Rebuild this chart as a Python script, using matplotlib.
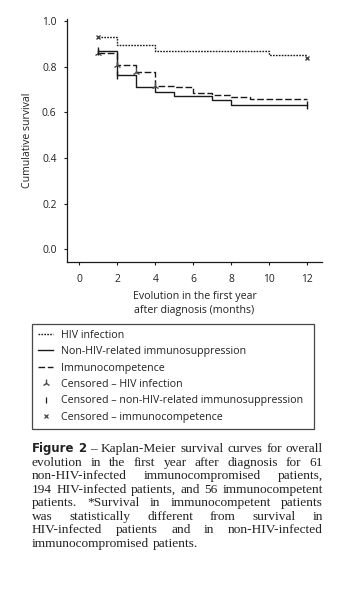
import numpy as np
import matplotlib
matplotlib.use("Agg")
import matplotlib.pyplot as plt
from matplotlib.lines import Line2D

W, H = 337, 596

# Kaplan-Meier step values (months, cumulative survival)
hiv_t = [1, 2, 4, 10, 12]
hiv_s = [0.93, 0.895, 0.87, 0.85, 0.85]
nonhiv_t = [1, 2, 3, 4, 5, 7, 8, 12]
nonhiv_s = [0.87, 0.765, 0.71, 0.69, 0.67, 0.652, 0.634, 0.634]
comp_t = [1, 2, 3, 4, 5, 6, 7, 8, 9, 12]
comp_s = [0.858, 0.808, 0.777, 0.717, 0.713, 0.684, 0.678, 0.666, 0.657, 0.657]

# censored observations
cens_tri_t = [1, 2, 3, 4]
cens_tri_s = [0.858, 0.808, 0.777, 0.715]
cens_bar_t = [1, 2, 12]
cens_bar_s = [0.87, 0.765, 0.634]
cens_x_t = [1, 12]
cens_x_s = [0.93, 0.84]

xticks = [0, 2, 4, 6, 8, 10, 12]
yticks = [0.0, 0.2, 0.4, 0.6, 0.8, 1.0]

legend_labels = ["HIV infection",
                 "Non-HIV-related immunosuppression",
                 "Immunocompetence",
                 "Censored \u2013 HIV infection",
                 "Censored \u2013 non-HIV-related immunosuppression",
                 "Censored \u2013 immunocompetence"]

caption_lines = [
    "Figure 2 \u2013 Kaplan-Meier survival curves for overall",
    "evolution in the first year after diagnosis for 61",
    "non-HIV-infected immunocompromised patients,",
    "194 HIV-infected patients, and 56 immunocompetent",
    "patients. *Survival in immunocompetent patients",
    "was statistically different from survival in",
    "HIV-infected patients and in non-HIV-infected",
    "immunocompromised patients.",
]

sans = "Open Sans"
serif = "Liberation Serif"
ink = "#1a1a1a"
grey = "#222222"
plt.rcParams["font.family"] = [sans, "DejaVu Sans"]

fig = plt.figure(figsize=(W / 100, H / 100), dpi=100)
fig.patch.set_facecolor("white")

# axes box in pixels: left 67, right 322, top 19, bottom 262
ax = fig.add_axes([67 / W, 1 - 262 / H, (322 - 67) / W, (262 - 19) / H])

dotted = (0, (1.2, 0.9))
dashed = (0, (4.8, 1.9))
ax.step(hiv_t, hiv_s, where="post", color=ink, lw=1.0, ls=dotted)
ax.step(nonhiv_t, nonhiv_s, where="post", color=ink, lw=1.0, ls="-")
ax.step(comp_t, comp_s, where="post", color=ink, lw=1.0, ls=dashed)

ax.plot(cens_tri_t, cens_tri_s, ls="none", marker="2", ms=5.5, mew=1.0, color="#4a4a4a")
ax.plot(cens_bar_t, cens_bar_s, ls="none", marker="|", ms=6, mew=1.0, color=ink)
ax.plot(cens_x_t, cens_x_s, ls="none", marker="x", ms=3.5, mew=1.0, color="#444444")

ax.set_xlim(-0.65, 12.77)
ax.set_ylim(-0.0556, 1.0088)
ax.set_xticks(xticks)
ax.set_yticks(yticks)
ax.set_yticklabels([f"{v:.1f}" for v in yticks])
for s in ["top", "right"]:
    ax.spines[s].set_visible(False)
for s in ["left", "bottom"]:
    ax.spines[s].set_linewidth(0.9)
    ax.spines[s].set_color(ink)
ax.tick_params(axis="both", length=2.5, width=0.8, color=ink, labelsize=7.4, labelcolor=grey)
ax.tick_params(axis="y", pad=5)
ax.tick_params(axis="x", pad=6)

ax.set_xlabel("Evolution in the first year\nafter diagnosis (months)", fontsize=7.7,
              color=grey, linespacing=1.4)
ax.xaxis.set_label_coords(0.5, -(303.7 - 262) / 243)
ax.xaxis.label.set_va("center")
ax.set_ylabel("Cumulative survival", fontsize=7.6, color=grey)
ax.yaxis.set_label_coords((28 - 67) / 255, 0.5)
ax.yaxis.label.set_va("center")

handles = [Line2D([], [], color=ink, lw=1.0, ls=dotted),
           Line2D([], [], color=ink, lw=1.0),
           Line2D([], [], color=ink, lw=1.0, ls=dashed),
           Line2D([], [], ls="none", marker="2", ms=5.5, mew=1.0, color="#4a4a4a"),
           Line2D([], [], ls="none", marker="|", ms=4.5, mew=0.9, color=ink),
           Line2D([], [], ls="none", marker="x", ms=3, mew=0.9, color="#444444")]
leg = fig.legend(handles, legend_labels, loc="upper left",
                 bbox_to_anchor=(32 / W, 1 - 324 / H, (314 - 32) / W, 0),
                 mode="expand", fontsize=7.7, frameon=True, fancybox=False,
                 edgecolor=ink, handlelength=1.45, handletextpad=0.75,
                 labelspacing=0.5, borderpad=0.55, borderaxespad=0)
leg.get_frame().set_linewidth(0.9)
for t in leg.get_texts():
    t.set_color(grey)

# justified caption set word by word; size chosen so the fullest line fits
renderer = fig.canvas.get_renderer()
probe = fig.text(0, 0, caption_lines[3], fontsize=10, family=[serif])
cap_size = 10 * 284 / probe.get_window_extent(renderer).width
probe.remove()
probe = fig.text(0, 0, "a b", fontsize=cap_size, family=[serif])
probe2 = fig.text(0, 0, "ab", fontsize=cap_size, family=[serif])
space = probe.get_window_extent(renderer).width - probe2.get_window_extent(renderer).width
probe.remove()
probe2.remove()

left_px, right_px = 32, 323
base0, step = 452.0, 13.57
for i, line in enumerate(caption_lines):
    words = line.split(" ")
    y = 1 - (base0 + i * step) / H
    items = []
    for j, w in enumerate(words):
        bold = (i == 0 and j < 2)
        t = fig.text(0, y, w, fontsize=cap_size * (0.88 if bold else 1.0),
                     va="baseline", ha="left", color=grey,
                     family=["DejaVu Sans"] if bold else [serif],
                     fontweight="bold" if bold else "normal")
        items.append(t)
    widths = [t.get_window_extent(renderer).width for t in items]
    if i == len(caption_lines) - 1:
        gap = space
    else:
        gap = (right_px - left_px - sum(widths)) / (len(words) - 1)
    x = left_px
    for t, w in zip(items, widths):
        t.set_x(x / W)
        x += w + gap

fig.savefig("out.png", dpi=100, facecolor="white")
